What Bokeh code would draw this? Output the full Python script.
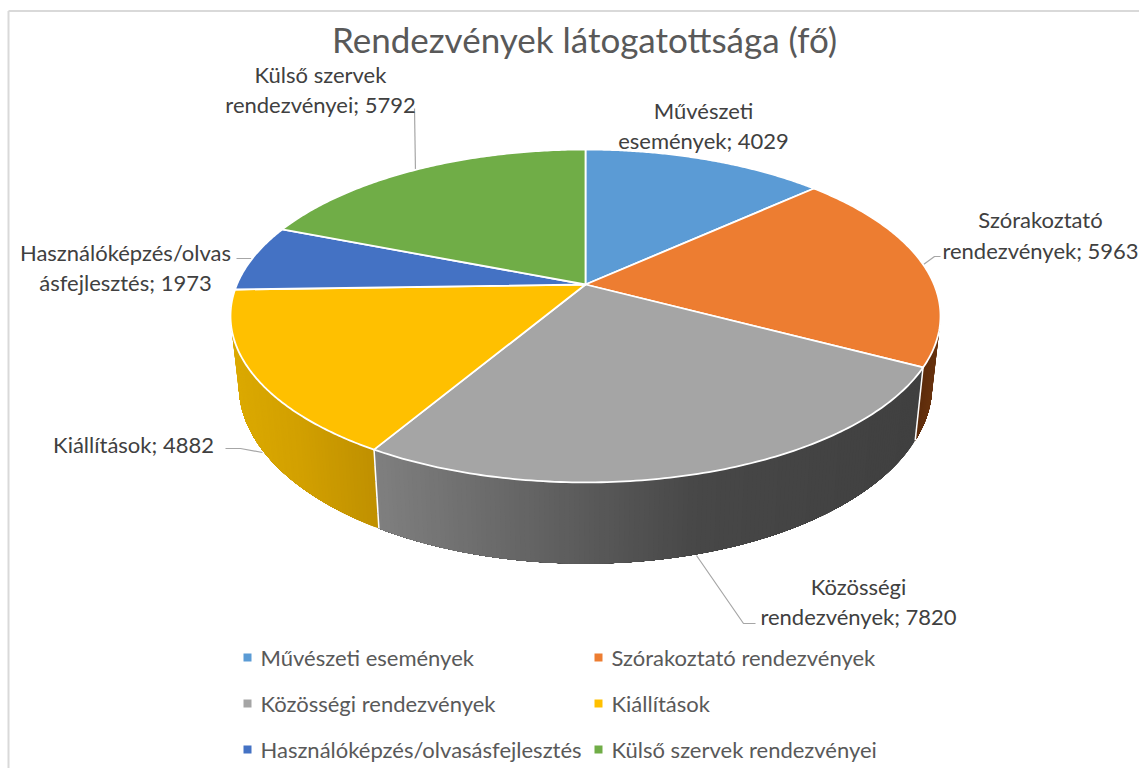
import numpy as np
from bokeh.plotting import figure
from bokeh.models import Range1d
from bokeh.core.properties import value
from bokeh.embed import file_html
from bokeh.resources import INLINE

title_text = "Rendezvények látogatottsága (fő)"
categories = ["Művészeti események", "Szórakoztató rendezvények", "Közösségi rendezvények",
              "Kiállítások", "Használóképzés/olvasásfejlesztés", "Külső szervek rendezvényei"]
values = [4029, 5963, 7820, 4882, 1973, 5792]
colors = ["#5b9bd5", "#ed7d31", "#a5a5a5", "#ffc000", "#4472c4", "#70ad47"]
label_lines = [["Művészeti", "események; 4029"], ["Szórakoztató", "rendezvények; 5963"],
               ["Közösségi", "rendezvények; 7820"], ["Kiállítások; 4882"],
               ["Használóképzés/olvas", "ásfejlesztés; 1973"], ["Külső szervek", "rendezvényei; 5792"]]

FONT = value("Lato")
TEXT = "#404040"

p = figure(width=1139, height=768, output_backend="svg", toolbar_location=None,
           x_range=Range1d(0, 1139), y_range=Range1d(768, 0), min_border=0,
           background_fill_color="white", border_fill_color="white", outline_line_color=None)
p.axis.visible = False
p.grid.visible = False

# pie geometry: perspective projection of the circle
K = 0.189
def top(t):
    X, Y = np.sin(t), -np.cos(t)
    d = 1 - K * Y
    return 585 + 348.6 * X / d, 284 + 160.5 * Y / d
def bottom(t):
    X, Y = np.sin(t), -np.cos(t)
    d = 1 - K * Y
    return 585 + 340.5 * X / d, 351 + 172 * Y / d

edges = np.concatenate([[0], np.cumsum(values)]) / sum(values) * 2 * np.pi

def hexmix(stops, x):
    xs = [s[0] for s in stops]
    rgb = [np.interp(x, xs, [int(s[1][i:i+2], 16) for s in stops]) for i in (1, 3, 5)]
    return "#%02x%02x%02x" % tuple(int(round(c)) for c in rgb)

wall_stops = {1: [(915, "#5a2a0a"), (940, "#6b3510")],
              2: [(380, "#7f7f7f"), (600, "#585858"), (700, "#474747"), (915, "#404040")],
              3: [(230, "#dcaa00"), (300, "#d2a000"), (379, "#bf9000")]}
vis_lo, vis_hi = np.radians(95), np.radians(265)
for i in (1, 3, 2):
    a = max(edges[i], vis_lo); b = min(edges[i + 1], vis_hi)
    ts = np.linspace(a, b, max(3, int(np.degrees(b - a) * 1.5)))
    # every strip runs on to the end of the slice; later ones paint over it, so no seams show
    for t0 in ts[:-1]:
        tt = np.linspace(t0, b, 40)
        xt, yt = top(tt); xb, yb = bottom(tt[::-1])
        x_mid = (top(t0)[0] + bottom(t0)[0]) / 2
        c = hexmix(wall_stops[i], x_mid)
        p.patch(np.r_[xt, xb], np.r_[yt, yb], fill_color=c, line_color=None)

# white seams between the walls
for e in (edges[2], edges[3]):
    x0, y0 = top(e); x1, y1 = bottom(e)
    p.line([x0, x1], [y0, y1], line_color="white", line_width=1.5)

# leader lines
leaders = [([414, 415], [108, 172]), ([940, 934, 923], [256, 256, 264]), ([236, 251], [258, 258]),
           ([225, 240, 262], [448, 448, 452]), ([696, 743, 755], [555, 623, 623])]
for lx, ly in leaders:
    p.line(lx, ly, line_color="#a6a6a6", line_width=1.2)

# top faces
for i in range(len(values)):
    ts = np.linspace(edges[i], edges[i + 1], 120)
    x, y = top(ts)
    p.patch(np.r_[585, x], np.r_[284, y], fill_color=colors[i], line_color="white", line_width=1.8,
            line_join="round")

# frame
p.line([8, 8], [10.5, 768], line_color="#d9d9d9", line_width=2)
p.line([8, 1139], [10.5, 10.5], line_color="#d9d9d9", line_width=2)

# title
p.text([584], [38], text=[title_text], text_font=FONT, text_font_size="35px", text_color="#595959",
       text_align="center", text_baseline="middle")

# data labels
label_pos = [(703, [110, 140]), (1040, [219, 250]), (858, [586, 616]), (133, [444]),
             (125, [252, 282]), (320, [74, 104])]
for lines, (cx, lys) in zip(label_lines, label_pos):
    p.text([cx] * len(lines), lys, text=lines, text_font=FONT, text_font_size="22px",
           text_color=TEXT, text_align="center", text_baseline="middle")

# legend
leg_x = [247, 598, 247, 598, 247, 598]
leg_y = [657, 657, 703, 703, 749, 749]
p.scatter(leg_x, leg_y, marker="square", size=8, fill_color=colors, line_color=None)
p.text([x + 13 for x in leg_x], leg_y, text=categories, text_font=FONT, text_font_size="22px",
       text_color="#595959", text_align="left", text_baseline="middle")

open("out.html", "w").write(file_html(p, INLINE))
